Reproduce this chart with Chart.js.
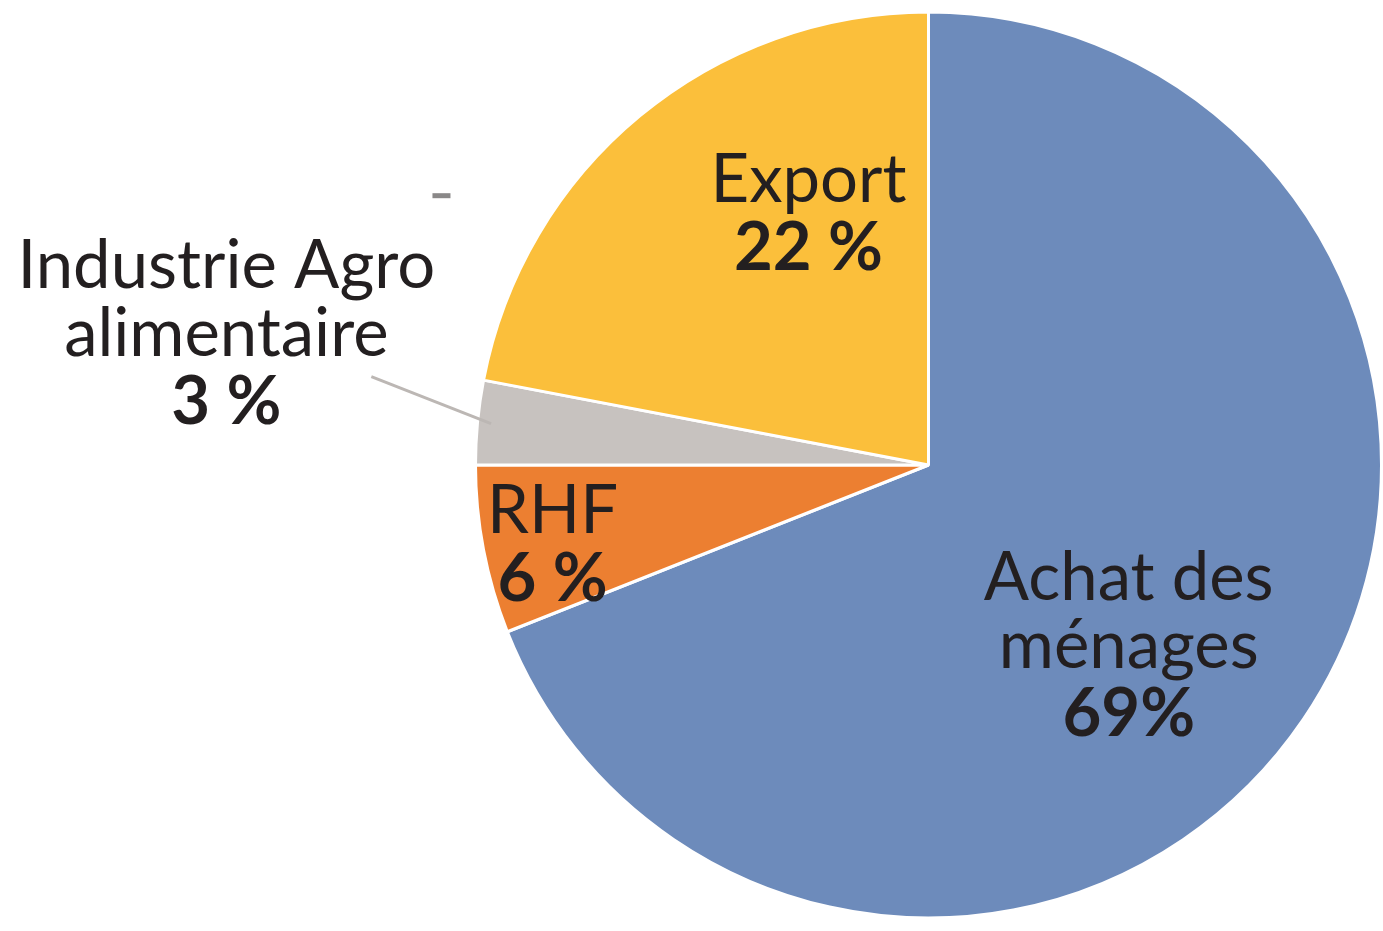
<!DOCTYPE html>
<html>
<head>
<meta charset="utf-8">
<script src="https://cdn.jsdelivr.net/npm/chart.js@4"></script>
<style>
  body { margin: 0; background: #fff; }
  #wrap { width: 1383px; height: 931px; }
</style>
</head>
<body>
<div id="wrap"><canvas id="pieChart" width="1383" height="931"></canvas></div>
<script>
// === Données ===
const categories = ['Achat des ménages', 'RHF', 'Industrie Agro alimentaire', 'Export'];
const values     = [69, 6, 3, 22];
const valueTexts = ['69%', '6 %', '3 %', '22 %'];
const labelLines = [['Achat des', 'ménages'], ['RHF'], ['Industrie Agro', 'alimentaire'], ['Export']];
const colors     = ['#6d8bbb', '#ec7f31', '#c7c2bf', '#fbbf3b'];

// positions of labels, relative to the pie centre, in units of radius
const labelPos = [
  { dx: 0.442,  dy: 0.298 },
  { dx: -0.830, dy: 0.150 },
  { dx: -1.550, dy: -0.390 },
  { dx: -0.265, dy: -0.580 }
];
const lineH = 68;

const labelsPlugin = {
  id: 'sliceLabels',
  afterDraw(chart) {
    const c = chart.ctx;
    const arcs = chart.getDatasetMeta(0).data;
    const R = arcs[0].outerRadius;
    const cx = arcs[0].x, cy = arcs[0].y;
    c.save();
    c.textAlign = 'center';
    c.textBaseline = 'alphabetic';
    c.fillStyle = '#231f20';

    // trait de rappel pour Industrie Agro
    const g = arcs[2];
    const mid = (g.startAngle + g.endAngle) / 2;
    c.strokeStyle = '#bcb7b4';
    c.lineWidth = 3;
    c.beginPath();
    c.moveTo(cx - 1.23 * R, cy - 0.195 * R);
    c.lineTo(cx + Math.cos(mid) * 0.97 * R, cy + Math.sin(mid) * 0.97 * R);
    c.stroke();

    arcs.forEach((a, i) => {
      const x = cx + labelPos[i].dx * R;
      let y = cy + labelPos[i].dy * R;
      c.font = '67px Lato';
      labelLines[i].forEach(t => { c.fillText(t, x, y); y += lineH; });
      c.font = 'bold 67px Lato';
      c.fillText(valueTexts[i], x, y);
    });

    // petit tiret isolé
    c.fillStyle = '#8a8888';
    c.fillRect(cx - 1.095 * R, cy - 0.6 * R, 18, 5);
    c.restore();
  }
};

new Chart(document.getElementById('pieChart'), {
  type: 'pie',
  data: {
    labels: categories,
    datasets: [{
      data: values,
      backgroundColor: colors,
      borderColor: '#ffffff',
      borderWidth: 3
    }]
  },
  options: {
    responsive: false,
    devicePixelRatio: 1,
    animation: false,
    layout: { padding: { left: 474, right: -3, top: 9, bottom: 10 } },
    plugins: {
      legend: { display: false },
      tooltip: { enabled: false }
    }
  },
  plugins: [labelsPlugin]
});
</script>
</body>
</html>
